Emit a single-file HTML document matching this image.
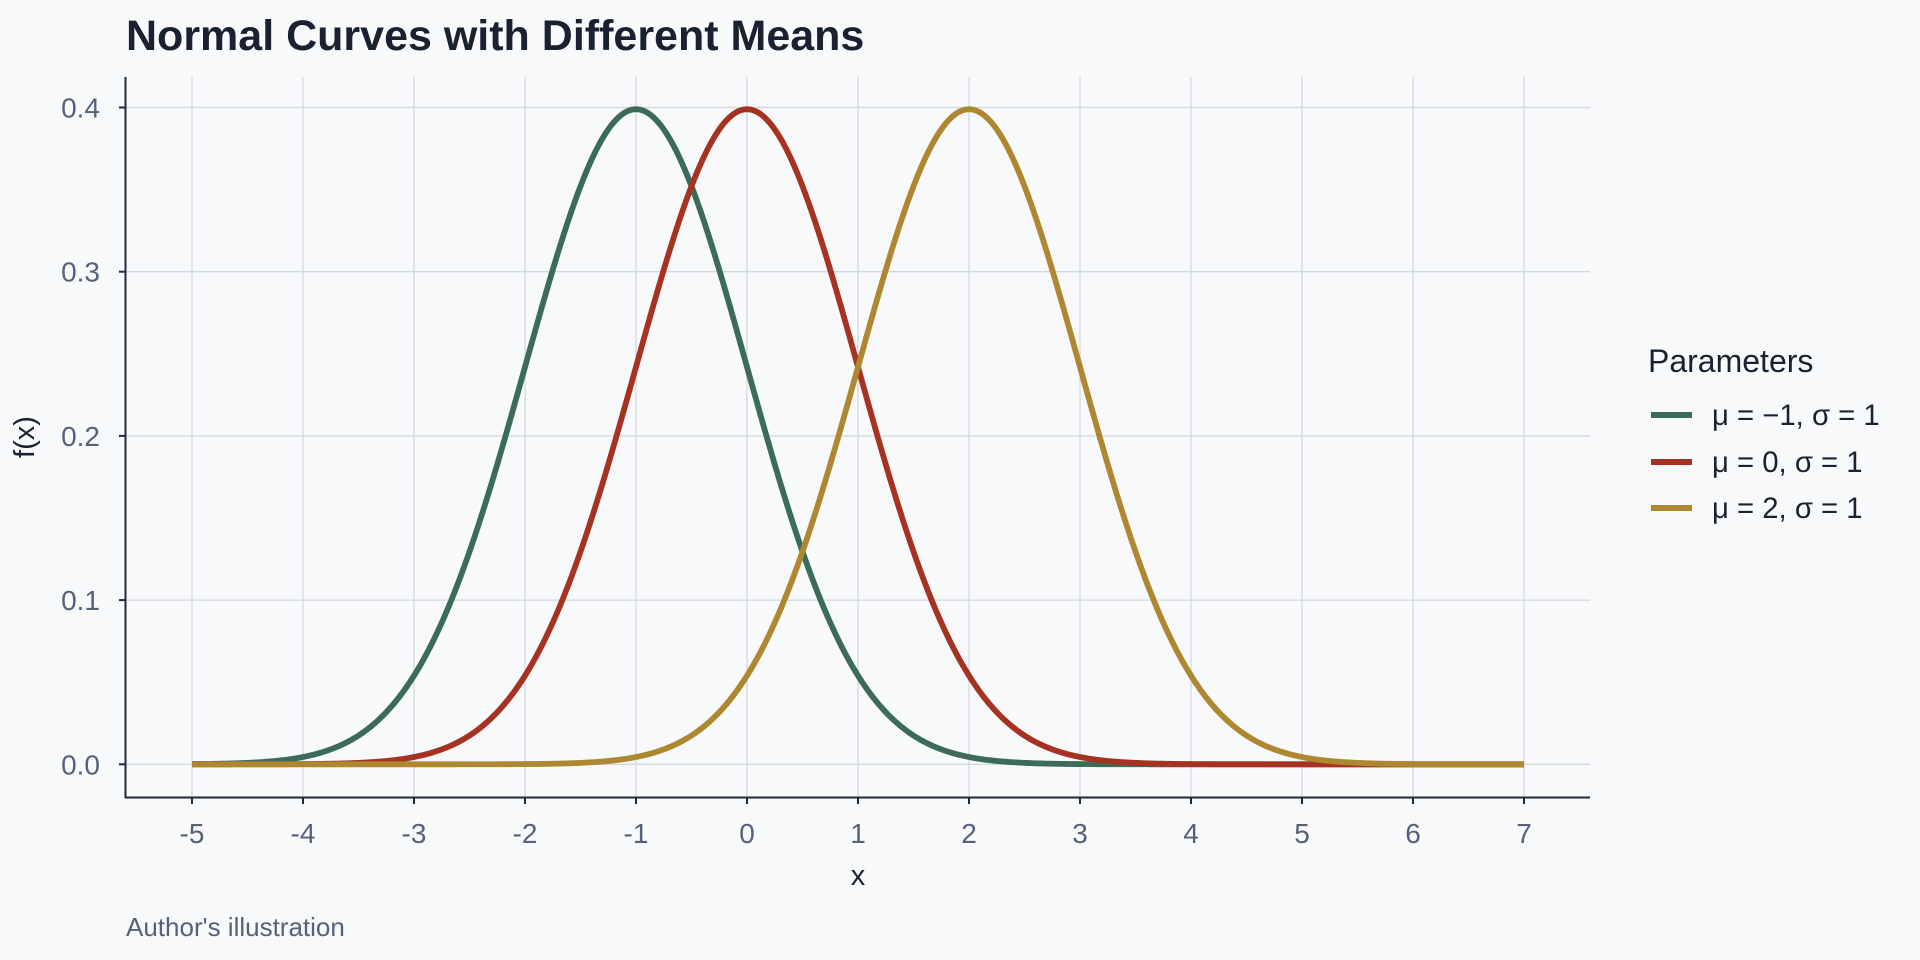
<!DOCTYPE html>
<html><head><meta charset="utf-8"><style>
body{margin:0;background:#f7f9fb;}
svg{display:block;font-family:"Liberation Sans",sans-serif;}
</style></head><body>
<svg id="s" width="1920" height="960" xmlns="http://www.w3.org/2000/svg">
<rect width="1920" height="960" fill="#f7f9fb"/>
<g id="grid" stroke="#d3d8e0" stroke-width="1.3"></g>
<g id="curves" fill="none" stroke-width="5.8" stroke-linejoin="round"></g>
<line x1="125.5" y1="77" x2="125.5" y2="798" stroke="#1f2937" stroke-width="2"/>
<line x1="125" y1="797.5" x2="1590" y2="797.5" stroke="#1f2937" stroke-width="2"/>
<g id="ticks" stroke="#1f2937" stroke-width="2"></g>
<g id="labels" fill="#56627a" font-size="28"></g>
<text x="126" y="50" font-size="43" font-weight="bold" fill="#1a2232">Normal Curves with Different Means</text>
<text x="858" y="885" font-size="29" fill="#1a2232" text-anchor="middle">x</text>
<text transform="translate(34,437) rotate(-90)" font-size="29" fill="#1a2232" text-anchor="middle">f(x)</text>
<text x="126" y="936" font-size="26" fill="#56627a">Author's illustration</text>
<text x="1648" y="372" font-size="32" fill="#1a2232">Parameters</text>
<line x1="1651" y1="415" x2="1692" y2="415" stroke="#3d6b5a" stroke-width="6"/>
<line x1="1651" y1="462" x2="1692" y2="462" stroke="#a63322" stroke-width="6"/>
<line x1="1651" y1="508" x2="1692" y2="508" stroke="#ad8830" stroke-width="6"/>
<text x="1712" y="425" font-size="29.3" fill="#1a2232">μ = −1, σ = 1</text>
<text x="1712" y="472" font-size="29.3" fill="#1a2232">μ = 0, σ = 1</text>
<text x="1712" y="518" font-size="29.3" fill="#1a2232">μ = 2, σ = 1</text>
</svg>
<script>
var NS="http://www.w3.org/2000/svg";
function X(v){return 747+111*v;}
function Y(v){return 764.3-1642*v;}
function el(p,t,a,txt){var e=document.createElementNS(NS,t);for(var k in a)e.setAttribute(k,a[k]);if(txt!=null)e.textContent=txt;document.getElementById(p).appendChild(e);}
for(var i=-5;i<=7;i++){el("grid","line",{x1:X(i),x2:X(i),y1:77,y2:797});
el("ticks","line",{x1:X(i),x2:X(i),y1:797,y2:804});
el("labels","text",{x:X(i),y:843,"text-anchor":"middle"},String(i));}
for(var j=0;j<=4;j++){var v=j/10;el("grid","line",{x1:126,x2:1590,y1:Y(v),y2:Y(v)});
el("ticks","line",{x1:119,x2:126,y1:Y(v),y2:Y(v)});
el("labels","text",{x:100,y:Y(v)+10,"text-anchor":"end"},v.toFixed(1));}
var cs=[[-1,"#3d6b5a"],[0,"#a63322"],[2,"#ad8830"]];
cs.forEach(function(c){var d="";for(var k=0;k<=600;k++){var x=-5+12*k/600;var y=Math.exp(-0.5*(x-c[0])*(x-c[0]))/Math.sqrt(2*Math.PI);d+=(k?"L":"M")+X(x).toFixed(2)+","+Y(y).toFixed(2);}
el("curves","path",{d:d,stroke:c[1]});});
</script>
</body></html>
